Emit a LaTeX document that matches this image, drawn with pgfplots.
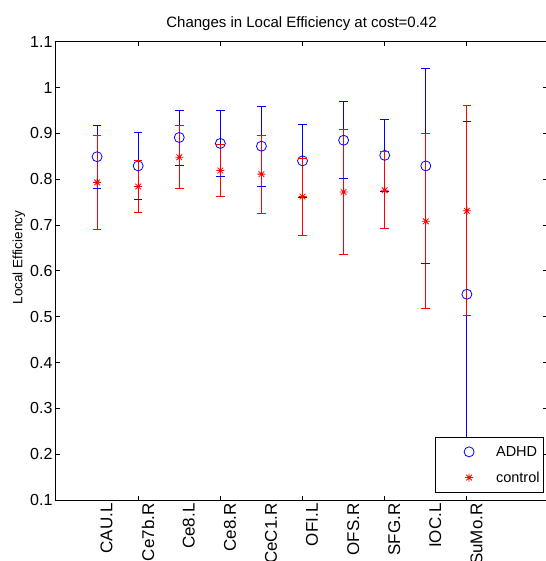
\documentclass[border=0pt]{standalone}
\usepackage{fontspec}
\setmainfont{Liberation Sans}
\usepackage{pgfplots}
\pgfplotsset{compat=1.18}
\usetikzlibrary{calc}
\pgfdeclareplotmark{mstar}{%
  \pgfpathmoveto{\pgfqpoint{0pt}{\pgfplotmarksize}}\pgfpathlineto{\pgfqpoint{0pt}{-\pgfplotmarksize}}%
  \pgfpathmoveto{\pgfqpoint{\pgfplotmarksize}{0pt}}\pgfpathlineto{\pgfqpoint{-\pgfplotmarksize}{0pt}}%
  \pgfpathmoveto{\pgfqpoint{0.707\pgfplotmarksize}{0.707\pgfplotmarksize}}\pgfpathlineto{\pgfqpoint{-0.707\pgfplotmarksize}{-0.707\pgfplotmarksize}}%
  \pgfpathmoveto{\pgfqpoint{-0.707\pgfplotmarksize}{0.707\pgfplotmarksize}}\pgfpathlineto{\pgfqpoint{0.707\pgfplotmarksize}{-0.707\pgfplotmarksize}}%
  \pgfusepathqstroke}
\begin{document}
\begin{tikzpicture}
\begin{axis}[name=ax, scale only axis, width=491pt, height=458.3pt,
  xmin=0, xmax=11.95, ymin=0.1, ymax=1.1,
  /pgf/number format/assume math mode=true,
  axis line style={line width=1pt, black},
  tick align=inside, major tick length=4.5pt,
  tick style={black, line width=0.8pt},
  xtick={1,2,3,4,5,6,7,8,9,10},
  xticklabels={CAU.L,Ce7b.R,Ce8.L,Ce8.R,CeC1.R,OFI.L,OFS.R,SFG.R,IOC.L,SuMo.R},
  xtick style={draw=none},
  extra x ticks={2,4,6,8,10}, extra x tick labels={},
  extra x tick style={xtick style={draw=black, line width=0.8pt}},
  ytick={0.1,0.2,0.3,0.4,0.5,0.6,0.7,0.8,0.9,1.0,1.1},
  yticklabels={0.1,0.2,0.3,0.4,0.5,0.6,0.7,0.8,0.9,1,1.1},
  xticklabel style={rotate=90, anchor=north east, font=\fontsize{17}{20}\selectfont},
  yticklabel style={font=\fontsize{16}{19}\selectfont},
  title={Changes in Local Efficiency at cost=0.42},
  every axis title/.style={at={(0.5,1)}, anchor=south, yshift=8pt, font=\fontsize{15}{18}\selectfont},
  ylabel={Local Efficiency},
  every axis y label/.style={at={(-0.0754,0.529)}, rotate=90, anchor=center, font=\fontsize{13.5}{16}\selectfont},
  legend style={at={(1,0)}, anchor=south east, xshift=-3pt, yshift=7pt, draw=black, line width=0.8pt, fill=white,
    font=\fontsize{14.5}{17}\selectfont, inner xsep=2pt, inner ysep=7pt, row sep=10pt,
    /tikz/every even column/.append style={column sep=0pt}},
  legend cell align=left,
  legend image code/.code={\path[draw=none,fill=none] (0pt,0pt) -- (57pt,0pt); \draw[#1, only marks] plot coordinates {(32pt,0pt)};},
  unbounded coords=jump,
]
% ADHD error bars (lower, upper)
\addplot[blue, line width=0.8pt, mark=-, mark size=4.3pt, mark options={solid, line width=0.8pt}, forget plot]
coordinates {
(1,0.780) (1,0.918) (1,nan)
(2,0.756) (2,0.902) (2,nan)
(3,0.831) (3,0.951) (3,nan)
(4,0.806) (4,0.950) (4,nan)
(5,0.785) (5,0.959) (5,nan)
(6,0.760) (6,0.920) (6,nan)
(7,0.801) (7,0.969) (7,nan)
(8,0.773) (8,0.931) (8,nan)
(9,0.616) (9,1.042) (9,nan)
(10,0.173) (10,0.925)
};
\addplot[blue, only marks, mark=o, mark size=5pt, line width=0.8pt]
coordinates {
(1,0.849) (2,0.829) (3,0.891) (4,0.878) (5,0.872)
(6,0.840) (7,0.885) (8,0.852) (9,0.829) (10,0.549)
};
\addlegendentry{ADHD}
% control error bars (lower, upper)
\addplot[red, line width=0.8pt, mark=-, mark size=4.3pt, mark options={solid, line width=0.8pt}, forget plot]
coordinates {
(1,0.690) (1,0.896) (1,nan)
(2,0.727) (2,0.841) (2,nan)
(3,0.779) (3,0.917) (3,nan)
(4,0.762) (4,0.876) (4,nan)
(5,0.726) (5,0.896) (5,nan)
(6,0.678) (6,0.846) (6,nan)
(7,0.636) (7,0.908) (7,nan)
(8,0.692) (8,0.860) (8,nan)
(9,0.517) (9,0.899) (9,nan)
(10,0.502) (10,0.960)
};
\addplot[red, only marks, mark=mstar, mark size=4pt, line width=0.8pt]
coordinates {
(1,0.793) (2,0.784) (3,0.848) (4,0.819) (5,0.811)
(6,0.762) (7,0.772) (8,0.776) (9,0.708) (10,0.731)
};
\addlegendentry{control}
\end{axis}
\pgfresetboundingbox
\path ($(ax.south west)+(-56pt,-61pt)$) rectangle ($(ax.north east)+(-2pt,41.7pt)$);
\end{tikzpicture}
\end{document}
